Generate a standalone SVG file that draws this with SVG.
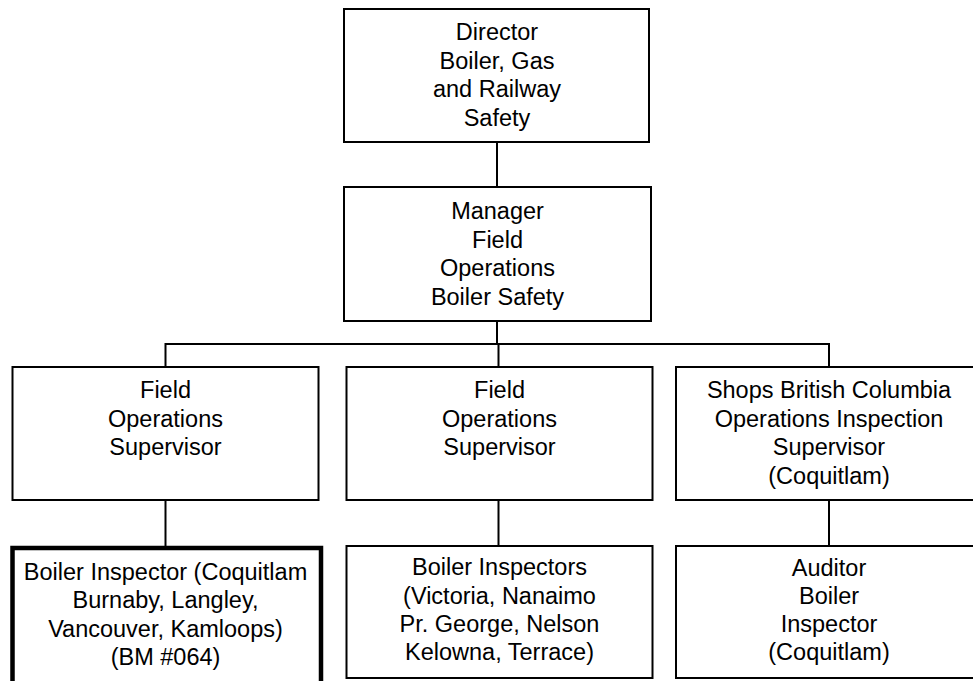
<svg xmlns="http://www.w3.org/2000/svg" width="973" height="681" viewBox="0 0 973 681">
<style>
.box{fill:#fff;stroke:#000;stroke-width:2}
.thick{fill:#fff;stroke:#000;stroke-width:4.5}
.t{font-family:"Liberation Sans",Arial,sans-serif;font-size:23.5px;fill:#000;text-anchor:middle}
.c{stroke:#000;stroke-width:2;fill:none}
</style>
<rect width="973" height="681" fill="#fff"/>
<g id="connectors">
<line class="c" x1="497" y1="142" x2="497" y2="187"/>
<line class="c" x1="497" y1="321" x2="497" y2="344"/>
<polyline class="c" points="165.5,367 165.5,344 829,344 829,367"/>
<line class="c" x1="498.5" y1="344" x2="498.5" y2="367"/>
<line class="c" x1="165.5" y1="500" x2="165.5" y2="546"/>
<line class="c" x1="498.5" y1="500" x2="498.5" y2="546"/>
<line class="c" x1="829" y1="500" x2="829" y2="546"/>
</g>
<g id="director">
<rect class="box" x="344" y="9" width="305" height="133"/>
<text class="t"><tspan x="497" y="40">Director</tspan><tspan x="497" y="69">Boiler, Gas</tspan><tspan x="497" y="97">and Railway</tspan><tspan x="497" y="126">Safety</tspan></text>
</g>
<g id="manager">
<rect class="box" x="344" y="187" width="307" height="134"/>
<text class="t"><tspan x="497.5" y="219">Manager</tspan><tspan x="497.5" y="248">Field</tspan><tspan x="497.5" y="276">Operations</tspan><tspan x="497.5" y="305">Boiler Safety</tspan></text>
</g>
<g id="field1">
<rect class="box" x="12.5" y="367" width="306" height="133"/>
<text class="t"><tspan x="165.5" y="398">Field</tspan><tspan x="165.5" y="427">Operations</tspan><tspan x="165.5" y="455">Supervisor</tspan></text>
</g>
<g id="field2">
<rect class="box" x="346.5" y="367" width="306" height="133"/>
<text class="t"><tspan x="499.5" y="398">Field</tspan><tspan x="499.5" y="427">Operations</tspan><tspan x="499.5" y="455">Supervisor</tspan></text>
</g>
<g id="shops">
<rect class="box" x="676" y="367" width="310" height="133"/>
<text class="t"><tspan x="829" y="398">Shops British Columbia</tspan><tspan x="829" y="427">Operations Inspection</tspan><tspan x="829" y="455">Supervisor</tspan><tspan x="829" y="484">(Coquitlam)</tspan></text>
</g>
<g id="boiler-inspector">
<rect class="thick" x="12.5" y="548" width="308.5" height="150"/>
<text class="t"><tspan x="165.5" y="580">Boiler Inspector (Coquitlam</tspan><tspan x="165.5" y="608">Burnaby, Langley,</tspan><tspan x="165.5" y="637">Vancouver, Kamloops)</tspan><tspan x="165.5" y="665">(BM #064)</tspan></text>
</g>
<g id="boiler-inspectors">
<rect class="box" x="346.5" y="546" width="306" height="132"/>
<text class="t"><tspan x="499.5" y="575">Boiler Inspectors</tspan><tspan x="499.5" y="604">(Victoria, Nanaimo</tspan><tspan x="499.5" y="632">Pr. George, Nelson</tspan><tspan x="499.5" y="660">Kelowna, Terrace)</tspan></text>
</g>
<g id="auditor">
<rect class="box" x="676" y="546" width="310" height="132"/>
<text class="t"><tspan x="829" y="576">Auditor</tspan><tspan x="829" y="604">Boiler</tspan><tspan x="829" y="632">Inspector</tspan><tspan x="829" y="660">(Coquitlam)</tspan></text>
</g>
</svg>
